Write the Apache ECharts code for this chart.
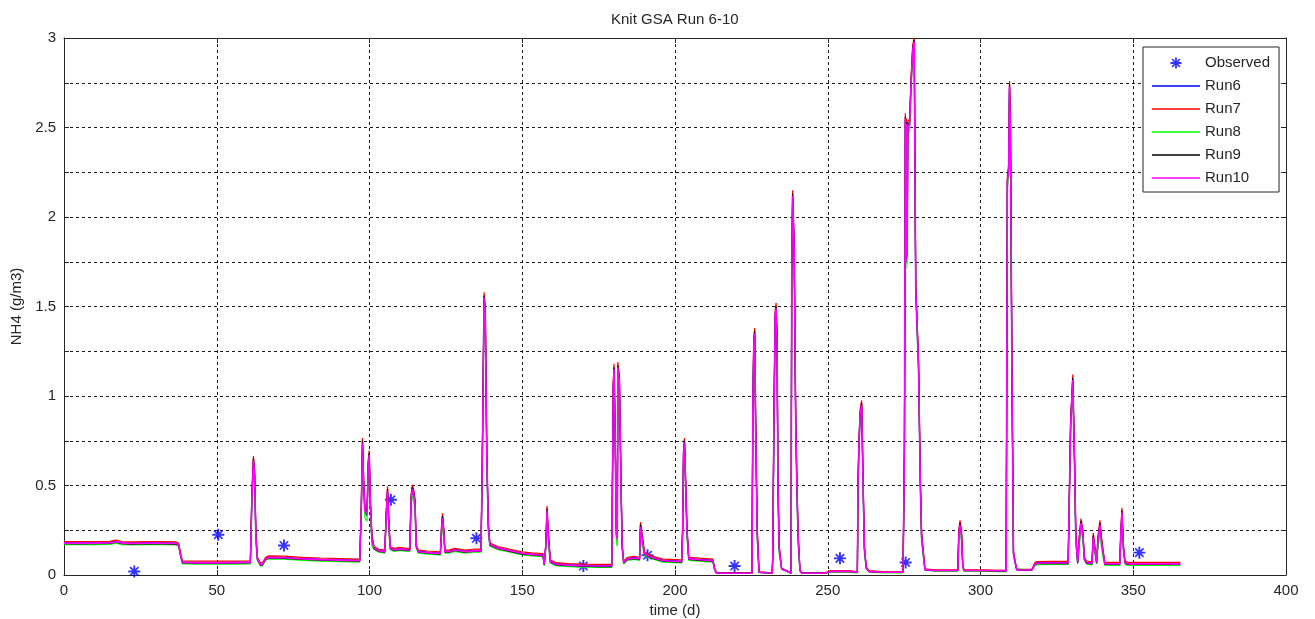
<!DOCTYPE html>
<html>
<head>
<meta charset="utf-8">
<title>Knit GSA Run 6-10</title>
<script src="https://cdn.jsdelivr.net/npm/echarts@6/dist/echarts.min.js"></script>
<style>
  html, body { margin: 0; padding: 0; background: #fff; }
  #chart { width: 1315px; height: 619px; }
</style>
</head>
<body>
<div id="chart"></div>
<script>
// Simulated NH4 (g/m3) for runs 6-10, sampled at shared time points (d)
const days = [
  0, 5, 10, 15, 17, 19, 22, 27, 32, 36.5, 37.5, 38.3, 38.8, 45, 50, 55, 61, 61.5, 62, 62.4,
  62.8, 63.3, 64.3, 65, 66, 67, 72, 78, 84, 90, 96.8, 97.3, 97.7, 98.1, 98.5, 99.2, 99.6, 99.9, 100.3, 100.8,
  101.5, 103, 105, 105.5, 105.9, 106.4, 106.8, 108, 110, 112, 113.2, 113.6, 114, 114.5, 114.9, 115.3, 116, 119, 123.2, 123.6,
  123.9, 124.3, 124.7, 126, 128, 131, 134, 136.5, 136.9, 137.2, 137.5, 137.9, 138.4, 138.9, 139.4, 142, 146, 150, 153, 156.8,
  157.2, 157.7, 158.1, 158.6, 159.2, 161, 165, 170, 175, 179.3, 179.5, 179.8, 180.05, 180.4, 180.8, 181.1, 181.3, 181.5, 181.8, 182.3,
  182.7, 183.2, 184.5, 186.5, 188.4, 188.7, 189, 189.3, 190, 192, 196, 202.2, 202.5, 202.8, 203.1, 203.5, 203.9, 204.5, 208, 212.4,
  213, 213.6, 219, 225.2, 225.5, 225.8, 226.1, 226.4, 226.9, 227.5, 231.8, 232, 232.4, 232.8, 233.1, 233.4, 233.7, 234.1, 234.9, 238,
  238.2, 238.5, 239, 239.5, 239.9, 240.3, 240.9, 241.5, 249, 251, 257, 259.7, 259.9, 260.2, 260.6, 261.1, 261.6, 262, 262.6, 263.5,
  268, 274.6, 274.8, 275.1, 275.4, 275.6, 275.8, 276, 276.2, 276.5, 276.8, 277.3, 277.8, 278.3, 278.8, 279.7, 280.3, 280.7, 281.8, 285,
  292.6, 292.9, 293.3, 293.8, 294.2, 294.6, 300, 308.4, 308.8, 309.2, 309.5, 309.8, 310.3, 310.8, 311.7, 312, 316.8, 317.8, 318.5, 323,
  328.7, 329.5, 330.2, 330.8, 331.2, 331.8, 332.4, 332.9, 333.5, 334, 334.8, 336.5, 336.9, 337.5, 338, 338.5, 339.1, 339.6, 340.1, 340.7,
  345.6, 345.9, 346.3, 346.8, 347.3, 348, 355, 360, 365.4
];

const run6 = [
  .181, .180, .181, .182, .189, .181, .179, .181, .180, .179, .173, .103, .073, .071, .071, .072, .073, .42, .63, .55,
  .21, .093, .061, .063, .093, .101, .099, .093, .089, .086, .083, .34, .73, .49, .35, .33, .61, .66, .38, .19,
  .153, .138, .133, .33, .46, .25, .153, .143, .148, .143, .143, .41, .47, .44, .39, .163, .133, .128, .123, .25,
  .31, .23, .133, .133, .143, .133, .138, .138, .59, 1.06, 1.54, 1.45, .65, .26, .173, .153, .138, .123, .118, .113,
  .063, .163, .35, .19, .078, .063, .058, .055, .053, .053, .45, 1.04, 1.14, .79, .22, .19, 1.15, 1.16, 1.07, .53,
  .163, .073, .093, .098, .093, .26, .26, .19, .123, .103, .083, .078, .24, .67, .73, .49, .24, .093, .088, .083,
  .032, .011, .011, .011, .97, 1.29, 1.34, .83, .23, .016, .011, .09, .89, 1.44, 1.48, 1.31, .49, .14, .036, .011,
  1.65, 2.11, 1.82, .87, .49, .20, .026, .011, .011, .021, .021, .016, .49, .71, .89, .94, .47, .14, .041, .021,
  .016, .016, .23, .68, 2.54, 1.74, 2.51, 1.77, 2.49, 2.49, 2.51, 2.75, 2.92, 2.97, 1.59, 1.17, .51, .21, .031, .026,
  .026, .22, .27, .21, .051, .026, .026, .023, 2.19, 2.25, 2.72, 2.49, 1.09, .123, .041, .029, .029, .063, .069, .070,
  .070, .83, 1.08, .61, .20, .073, .20, .28, .22, .093, .071, .068, .20, .13, .073, .19, .27, .18, .12, .065,
  .065, .20, .34, .14, .073, .065, .065, .065, .065
];

const run7 = [
  .187, .186, .187, .188, .195, .187, .185, .187, .186, .185, .179, .109, .079, .077, .077, .078, .079, .455, .665, .585,
  .245, .099, .067, .069, .099, .107, .105, .099, .095, .092, .089, .375, .765, .525, .385, .365, .645, .695, .415, .225,
  .159, .144, .139, .365, .495, .285, .159, .149, .154, .149, .149, .445, .505, .475, .425, .169, .139, .134, .129, .285,
  .345, .265, .139, .139, .149, .139, .144, .144, .625, 1.10, 1.58, 1.49, .685, .295, .179, .159, .144, .129, .124, .119,
  .069, .169, .385, .225, .084, .069, .064, .061, .059, .059, .485, 1.08, 1.18, .825, .255, .225, 1.19, 1.20, 1.11, .565,
  .169, .079, .099, .104, .099, .295, .295, .225, .129, .109, .089, .084, .275, .705, .765, .525, .275, .099, .094, .089,
  .036, .012, .012, .012, 1.01, 1.33, 1.38, .865, .265, .018, .012, .11, .925, 1.48, 1.52, 1.35, .525, .165, .039, .012,
  1.69, 2.15, 1.86, .905, .525, .235, .028, .012, .012, .025, .025, .019, .525, .745, .925, .975, .505, .165, .045, .024,
  .019, .019, .265, .715, 2.58, 1.78, 2.55, 1.81, 2.53, 2.53, 2.55, 2.79, 2.96, 3.00, 1.63, 1.21, .545, .245, .034, .029,
  .029, .255, .305, .245, .055, .029, .029, .026, 2.23, 2.29, 2.76, 2.53, 1.13, .129, .044, .031, .031, .069, .075, .076,
  .076, .865, 1.12, .645, .235, .079, .235, .315, .255, .099, .077, .074, .235, .155, .079, .225, .305, .215, .145, .071,
  .071, .235, .375, .165, .079, .071, .071, .071, .071
];

const run8 = [
  .170, .169, .170, .171, .178, .170, .168, .170, .169, .168, .162, .092, .062, .060, .060, .061, .062, .39, .60, .52,
  .18, .082, .050, .052, .082, .090, .088, .082, .078, .075, .072, .31, .70, .46, .32, .30, .58, .63, .35, .16,
  .142, .127, .122, .30, .43, .22, .142, .132, .137, .132, .132, .38, .44, .41, .36, .152, .122, .117, .112, .22,
  .28, .20, .122, .122, .132, .122, .127, .127, .56, 1.03, 1.51, 1.42, .62, .23, .162, .142, .127, .112, .107, .102,
  .052, .152, .32, .16, .067, .052, .047, .044, .042, .042, .42, 1.01, 1.11, .76, .19, .16, 1.12, 1.13, 1.04, .50,
  .152, .062, .082, .087, .082, .23, .23, .16, .112, .092, .072, .067, .21, .64, .70, .46, .21, .082, .077, .072,
  .026, .009, .009, .009, .94, 1.26, 1.31, .80, .20, .013, .009, .08, .86, 1.41, 1.45, 1.28, .46, .12, .032, .009,
  1.62, 2.08, 1.79, .84, .46, .17, .023, .009, .009, .016, .016, .012, .46, .68, .86, .91, .44, .12, .036, .017,
  .012, .012, .20, .65, 2.51, 1.71, 2.48, 1.74, 2.46, 2.46, 2.48, 2.72, 2.89, 2.94, 1.56, 1.14, .48, .18, .027, .021,
  .021, .19, .24, .18, .045, .021, .021, .018, 2.16, 2.22, 2.69, 2.46, 1.06, .112, .036, .025, .025, .052, .058, .059,
  .059, .80, 1.05, .58, .17, .062, .17, .25, .19, .082, .060, .057, .17, .11, .062, .16, .24, .15, .10, .054,
  .054, .17, .31, .12, .062, .054, .054, .054, .054
];

const run9 = [
  .175, .174, .175, .176, .183, .175, .173, .175, .174, .173, .167, .097, .067, .065, .065, .066, .067, .44, .65, .57,
  .23, .087, .055, .057, .087, .095, .093, .087, .083, .080, .077, .36, .75, .51, .37, .35, .63, .68, .40, .21,
  .147, .132, .127, .35, .48, .27, .147, .137, .142, .137, .137, .43, .49, .46, .41, .157, .127, .122, .117, .27,
  .33, .25, .127, .127, .137, .127, .132, .132, .61, 1.08, 1.56, 1.47, .67, .28, .167, .147, .132, .117, .112, .107,
  .057, .157, .37, .21, .072, .057, .052, .049, .047, .047, .47, 1.06, 1.16, .81, .24, .21, 1.17, 1.18, 1.09, .55,
  .157, .067, .087, .092, .087, .28, .28, .21, .117, .097, .077, .072, .26, .69, .75, .51, .26, .087, .082, .077,
  .029, .010, .010, .010, .99, 1.31, 1.36, .85, .25, .015, .010, .10, .91, 1.46, 1.50, 1.33, .51, .15, .034, .010,
  1.67, 2.13, 1.84, .89, .51, .22, .025, .010, .010, .019, .019, .014, .51, .73, .91, .96, .49, .15, .039, .019,
  .014, .014, .25, .70, 2.56, 1.76, 2.53, 1.79, 2.51, 2.51, 2.53, 2.77, 2.94, 2.99, 1.61, 1.19, .53, .23, .029, .024,
  .024, .24, .29, .23, .049, .024, .024, .021, 2.21, 2.27, 2.74, 2.51, 1.11, .117, .039, .027, .027, .057, .063, .064,
  .064, .85, 1.10, .63, .22, .067, .22, .30, .24, .087, .065, .062, .22, .14, .067, .21, .29, .20, .13, .059,
  .059, .22, .36, .15, .067, .059, .059, .059, .059
];

const run10 = [
  .178, .177, .178, .179, .186, .178, .176, .178, .177, .176, .170, .100, .070, .068, .068, .069, .070, .43, .64, .56,
  .22, .090, .058, .060, .090, .098, .096, .090, .086, .083, .080, .35, .74, .50, .36, .34, .62, .67, .39, .20,
  .150, .135, .130, .34, .47, .26, .150, .140, .145, .140, .140, .42, .48, .45, .40, .160, .130, .125, .120, .26,
  .32, .24, .130, .130, .140, .130, .135, .135, .60, 1.07, 1.55, 1.46, .66, .27, .170, .150, .135, .120, .115, .110,
  .060, .160, .36, .20, .075, .060, .055, .052, .050, .050, .46, 1.05, 1.15, .80, .23, .20, 1.16, 1.17, 1.08, .54,
  .160, .070, .090, .095, .090, .27, .27, .20, .120, .100, .080, .075, .25, .68, .74, .50, .25, .090, .085, .080,
  .030, .010, .010, .010, .98, 1.30, 1.35, .84, .24, .015, .010, .10, .90, 1.45, 1.49, 1.32, .50, .15, .035, .010,
  1.66, 2.12, 1.83, .88, .50, .21, .025, .010, .010, .020, .020, .015, .50, .72, .90, .95, .48, .15, .040, .020,
  .015, .015, .24, .69, 2.55, 1.75, 2.52, 1.78, 2.50, 2.50, 2.52, 2.76, 2.93, 2.98, 1.60, 1.18, .52, .22, .030, .025,
  .025, .23, .28, .22, .050, .025, .025, .022, 2.20, 2.26, 2.73, 2.50, 1.10, .120, .040, .028, .028, .060, .066, .067,
  .067, .84, 1.09, .62, .21, .070, .21, .29, .23, .090, .068, .065, .21, .14, .070, .20, .28, .19, .13, .062,
  .062, .21, .35, .15, .070, .062, .062, .062, .062
];

// Observed NH4 samples
const obsDays = [23, 50.5, 72, 107, 135, 170, 191, 219.5, 254, 275.5, 352];
const obsNH4 = [0.02, 0.225, 0.165, 0.42, 0.205, 0.05, 0.11, 0.05, 0.093, 0.07, 0.125];

const yTickLabels = ['0', '0.5', '1', '1.5', '2', '2.5', '3'];

const runNames = ['Run6', 'Run7', 'Run8', 'Run9', 'Run10'];
const runValues = [run6, run7, run8, run9, run10];
const runColors = ['#0000ff', '#ff0000', '#00ff00', '#000000', '#ff00ff'];

const FONT = "'Liberation Sans', Arial, sans-serif";
const INK = '#262626';

// asterisk marker: + and x strokes as thin bars
const STAR = 'path://M-5,-0.8L5,-0.8L5,0.8L-5,0.8Z M-0.8,-5L0.8,-5L0.8,5L-0.8,5Z ' +
  'M-3.0,-4.0L4.0,3.0L3.0,4.0L-4.0,-3.0Z M3.0,-4.0L4.0,-3.0L-3.0,4.0L-4.0,3.0Z';
const LINE_ICON = 'path://M0,0L48,0L48,1.3L0,1.3Z';

function pairs(xs, ys) { return xs.map((x, i) => [x, ys[i]]); }

const chart = echarts.init(document.getElementById('chart'), null, { renderer: 'canvas' });

const series = [{
  name: 'Observed',
  type: 'scatter',
  data: pairs(obsDays, obsNH4),
  symbol: STAR,
  symbolSize: 12,
  itemStyle: { color: '#0000ff' },
  z: 1
}];
runNames.forEach((name, k) => {
  series.push({
    name: name,
    type: 'line',
    data: pairs(days, runValues[k]),
    showSymbol: false,
    symbol: 'none',
    lineStyle: { color: runColors[k], width: k === 4 ? 1.6 : 1.2 },
    itemStyle: { color: runColors[k] },
    z: 2 + k
  });
});

const splitDash = { show: true, lineStyle: { color: '#1a1a1a', type: [3, 3], width: 1 } };

chart.setOption({
  animation: false,
  backgroundColor: '#ffffff',
  textStyle: { fontFamily: FONT },
  title: {
    text: 'Knit GSA Run 6-10',
    left: 606,
    top: 7,
    textStyle: { fontFamily: FONT, fontSize: 15, fontWeight: 'normal', color: INK }
  },
  grid: { left: 64, right: 29, top: 38, bottom: 44, containLabel: false, outerBoundsMode: 'none' },
  legend: {
    orient: 'vertical',
    left: 1143,
    top: 47,
    padding: [7, 9, 5, 9],
    itemGap: 5,
    itemWidth: 48,
    itemHeight: 11,
    backgroundColor: '#ffffff',
    borderColor: INK,
    borderWidth: 1,
    borderRadius: 0,
    textStyle: { fontFamily: FONT, fontSize: 15, color: INK, lineHeight: 18 },
    data: [
      { name: 'Observed', icon: STAR },
      { name: 'Run6', icon: LINE_ICON },
      { name: 'Run7', icon: LINE_ICON },
      { name: 'Run8', icon: LINE_ICON },
      { name: 'Run9', icon: LINE_ICON },
      { name: 'Run10', icon: LINE_ICON }
    ]
  },
  xAxis: [{
    type: 'value',
    min: 0, max: 400, interval: 50,
    name: 'time (d)',
    nameLocation: 'middle',
    nameGap: 20,
    nameTextStyle: { fontFamily: FONT, fontSize: 15, color: INK },
    axisLine: { show: true, onZero: false, lineStyle: { color: INK, width: 1 } },
    axisTick: { show: true, inside: true, length: 5, lineStyle: { color: INK } },
    axisLabel: { fontFamily: FONT, fontSize: 15, color: INK, margin: 8 },
    splitLine: splitDash
  }, {
    type: 'value',
    position: 'top',
    min: 0, max: 400, interval: 50,
    axisLine: { show: true, onZero: false, lineStyle: { color: INK, width: 1 } },
    axisTick: { show: true, inside: true, length: 5, lineStyle: { color: INK } },
    axisLabel: { show: false },
    splitLine: { show: false }
  }],
  yAxis: [{
    type: 'value',
    min: 0, max: 3, interval: 0.25,
    name: 'NH4 (g/m3)',
    nameLocation: 'middle',
    nameGap: 34,
    nameTextStyle: { fontFamily: FONT, fontSize: 15, color: INK },
    axisLine: { show: true, onZero: false, lineStyle: { color: INK, width: 1 } },
    axisTick: { show: true, inside: true, length: 5, lineStyle: { color: INK } },
    axisLabel: {
      fontFamily: FONT, fontSize: 15, color: INK, margin: 8,
      formatter: v => {
        const k = Math.round(v * 2);
        return Math.abs(v * 2 - k) < 1e-6 ? yTickLabels[k] : '';
      }
    },
    splitLine: splitDash
  }, {
    type: 'value',
    position: 'right',
    min: 0, max: 3, interval: 0.25,
    axisLine: { show: true, onZero: false, lineStyle: { color: INK, width: 1 } },
    axisTick: { show: true, inside: true, length: 5, lineStyle: { color: INK } },
    axisLabel: { show: false },
    splitLine: { show: false }
  }],
  series: series
});
</script>
</body>
</html>
